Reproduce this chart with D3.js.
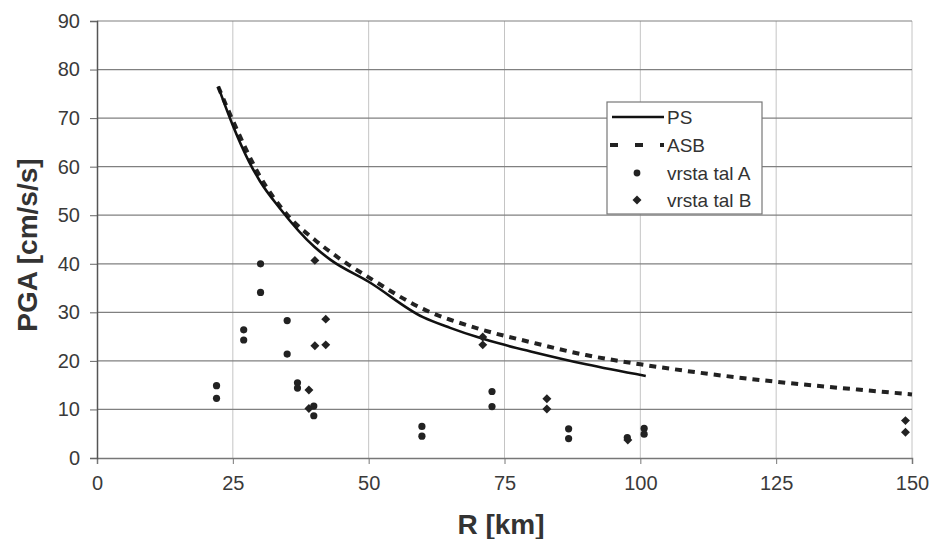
<!DOCTYPE html>
<html>
<head>
<meta charset="utf-8">
<script src="https://cdn.jsdelivr.net/npm/d3@7"></script>
<style>
  html, body { margin: 0; padding: 0; background: #fff; }
  svg { display: block; }
  text { font-family: "Liberation Sans", Arial, sans-serif; }
</style>
</head>
<body>
<svg id="chart" width="933" height="539"></svg>
<script>
// ---- data ----
const xTicks = [0, 25, 50, 75, 100, 125, 150];
const yTicks = [0, 10, 20, 30, 40, 50, 60, 70, 80, 90];

const psR = [22.3, 25, 28, 30, 33.6, 40, 43, 50, 60, 65, 70, 75, 80, 90, 101];
const psV = [76.5, 68.5, 61, 57, 51.5, 43.5, 40.8, 36.3, 29.0, 26.8, 24.9, 23.3, 21.9, 19.3, 16.9];

const asbR = [22.3, 25, 30, 35, 40, 45, 50, 60, 70, 80, 90, 100, 110, 125, 140, 150];
const asbV = [76.5, 69.5, 58, 50.1, 45, 40.8, 37.2, 30.7, 26.7, 23.8, 21.2, 19.3, 17.7, 15.7, 14.1, 13.1];

const aR = [22, 22, 27, 27, 30.1, 30.1, 35, 35, 36.9, 36.9, 39.9, 39.9, 59.8, 59.8, 72.7, 72.7, 86.8, 86.8, 97.6, 100.7, 100.7];
const aV = [14.9, 12.3, 26.4, 24.3, 40.0, 34.1, 28.3, 21.4, 15.5, 14.4, 10.7, 8.7, 6.5, 4.5, 13.7, 10.6, 6.0, 4.0, 4.2, 6.1, 4.9];

const bR = [39.0, 39.0, 40.1, 40.1, 42.1, 42.1, 71.0, 71.0, 82.8, 82.8, 97.7, 148.8, 148.8];
const bV = [14.0, 10.2, 40.7, 23.1, 28.6, 23.3, 24.9, 23.3, 12.2, 10.1, 3.7, 7.7, 5.3];

const legendLabels = ["PS", "ASB", "vrsta tal A", "vrsta tal B"];

// ---- layout ----
const svg = d3.select("#chart");
const x = d3.scaleLinear().domain([0, 150]).range([97, 912]);
const y = d3.scaleLinear().domain([0, 90]).range([458, 21]);

// vertical gridlines
svg.append("g").selectAll("line").data(xTicks.filter(d => d > 0)).join("line")
  .attr("x1", d => x(d)).attr("x2", d => x(d))
  .attr("y1", y(90)).attr("y2", y(0))
  .attr("stroke", "#c4c4c4").attr("stroke-width", 1);

// horizontal gridlines
svg.append("g").selectAll("line").data(yTicks.filter(d => d > 0)).join("line")
  .attr("x1", x(0)).attr("x2", x(150))
  .attr("y1", d => y(d)).attr("y2", d => y(d))
  .attr("stroke", "#808080").attr("stroke-width", 1.2);

// axes
const xAxis = d3.axisBottom(x).tickValues(xTicks).tickSize(6).tickPadding(12).tickFormat(d3.format("d"));
const gx = svg.append("g").attr("transform", `translate(0,${y(0)})`).call(xAxis);
gx.select(".domain").attr("stroke", "#777").attr("stroke-width", 1.5);
gx.selectAll(".tick line").attr("stroke", "#777");
gx.selectAll(".tick text").attr("font-size", 20).attr("fill", "#3a3a3a")
  .attr("font-family", "Liberation Sans, Arial, sans-serif");

const yAxis = d3.axisLeft(y).tickValues(yTicks).tickSize(7).tickPadding(10).tickFormat(d3.format("d"));
const gy = svg.append("g").attr("transform", `translate(${x(0)},0)`).call(yAxis);
gy.select(".domain").attr("stroke", "#555").attr("stroke-width", 1.5);
gy.selectAll(".tick line").attr("stroke", "#666");
gy.selectAll(".tick text").attr("font-size", 20).attr("fill", "#3a3a3a")
  .attr("font-family", "Liberation Sans, Arial, sans-serif");

// axis titles
svg.append("text").attr("x", 501).attr("y", 534).attr("text-anchor", "middle")
  .attr("font-size", 28).attr("font-weight", "bold").attr("fill", "#333").text("R [km]");
svg.append("text").attr("transform", "translate(37,245) rotate(-90)").attr("text-anchor", "middle")
  .attr("font-size", 28).attr("font-weight", "bold").attr("fill", "#333").text("PGA [cm/s/s]");

// lines
const line = d3.line().x(d => x(d[0])).y(d => y(d[1])).curve(d3.curveMonotoneX);
svg.append("path").datum(asbR.map((r, i) => [r, asbV[i]]))
  .attr("d", line).attr("fill", "none").attr("stroke", "#222")
  .attr("stroke-width", 4).attr("stroke-dasharray", "7,6");
svg.append("path").datum(psR.map((r, i) => [r, psV[i]]))
  .attr("d", line).attr("fill", "none").attr("stroke", "#111")
  .attr("stroke-width", 2.6);

// points
const diamond = d3.symbol().type(d3.symbolSquare).size(40);
svg.append("g").selectAll("circle").data(aR.map((r, i) => [r, aV[i]])).join("circle")
  .attr("cx", d => x(d[0])).attr("cy", d => y(d[1])).attr("r", 3.6)
  .attr("fill", "#222");
svg.append("g").selectAll("path").data(bR.map((r, i) => [r, bV[i]])).join("path")
  .attr("d", diamond).attr("transform", d => `translate(${x(d[0])},${y(d[1])}) rotate(45)`)
  .attr("fill", "#222");

// legend
const lg = svg.append("g");
lg.append("rect").attr("x", 607).attr("y", 102).attr("width", 155).attr("height", 112)
  .attr("fill", "#fff").attr("stroke", "#777").attr("stroke-width", 1.2);
const ly = [117, 145, 173, 200];
lg.append("line").attr("x1", 612).attr("x2", 664).attr("y1", ly[0]).attr("y2", ly[0])
  .attr("stroke", "#111").attr("stroke-width", 2.6);
lg.append("line").attr("x1", 610).attr("x2", 664).attr("y1", ly[1]).attr("y2", ly[1])
  .attr("stroke", "#222").attr("stroke-width", 4).attr("stroke-dasharray", "8,17");
lg.append("circle").attr("cx", 637).attr("cy", ly[2]).attr("r", 3.4).attr("fill", "#222");
lg.append("path").attr("d", diamond).attr("transform", `translate(637,${ly[3]}) rotate(45)`).attr("fill", "#222");
lg.selectAll("text.lab").data(legendLabels).join("text").attr("class", "lab")
  .attr("x", 667).attr("y", (d, i) => ly[i] + 7)
  .attr("font-size", 19).attr("fill", "#333").text(d => d);
</script>
</body>
</html>
